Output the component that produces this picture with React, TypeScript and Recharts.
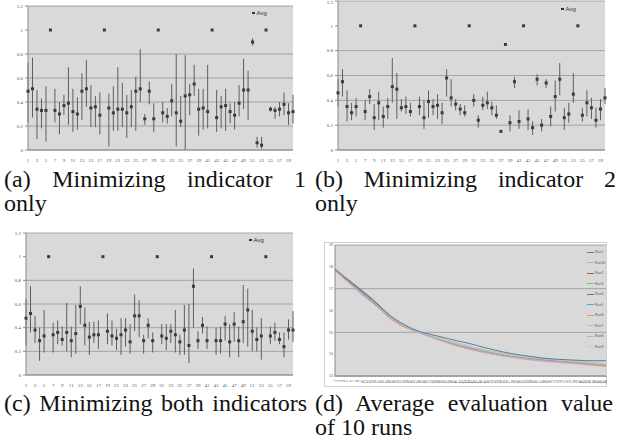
import { ComposedChart, LineChart, Line, XAxis, YAxis, CartesianGrid, ErrorBar, Legend } from 'recharts'

// x categories of the three error-bar panels
const categories = [
  1, 2, 3, 4, 5, 6, 7, 8, 9, 10, 11, 12, 13, 14, 15, 16, 17, 18, 19, 20,
  21, 22, 23, 24, 25, 26, 27, 28, 29, 30, 31, 32, 33, 34, 35, 36, 37, 38, 39, 40,
  41, 42, 43, 44, 45, 46, 47, 48, 49, 50, 51, 52, 53, 54, 55, 56, 57, 58, 59, 60
]
const yTicks = [0, 0.2, 0.4, 0.6, 0.8, 1, 1.2]

// (a) minimizing indicator 1 only
const aMean = [0.49, 0.51, 0.34, 0.33, 0.33, 1, 0.33, 0.30, 0.37, 0.39, 0.32, 0.30, 0.49, 0.51, 0.35, 0.36, 0.29, 1, 0.35, 0.31, 0.34, 0.34, 0.31, 0.36, 0.49, 0.51, 0.26, 0.49, 0.26, 1, 0.31, 0.28, 0.41, 0.31, 0.24, 0.45, 0.46, 0.55, 0.34, 0.35, 0.32, 1, 0.27, 0.36, 0.37, 0.32, 0.29, 0.39, 0.50, 0.50, 0.90, 0.06, 0.04, 1, 0.34, 0.33, 0.34, 0.38, 0.31, 0.32]
const aLow = [0.23, 0.27, 0.09, 0.18, 0.07, 1, 0.23, 0.13, 0.29, 0.21, 0.15, 0.17, 0.25, 0.36, 0.19, 0.19, 0.13, 1, 0.03, 0.16, 0.16, 0.19, 0.10, 0.19, 0.16, 0.40, 0.21, 0.38, 0.15, 1, 0.23, 0.22, 0.28, 0.03, 0.19, 0, 0.29, 0.45, 0.12, 0.17, 0.18, 1, 0.15, 0.18, 0.16, 0.22, 0.17, 0.28, 0.34, 0.25, 0.87, 0.02, 0.01, 1, 0.32, 0.26, 0.28, 0.29, 0.21, 0.22]
const aHigh = [0.73, 0.77, 0.50, 0.43, 0.53, 1, 0.51, 0.40, 0.46, 0.69, 0.51, 0.44, 0.64, 0.75, 0.54, 0.45, 0.48, 1, 0.47, 0.53, 0.69, 0.56, 0.46, 0.50, 0.61, 0.84, 0.30, 0.57, 0.39, 1, 0.40, 0.35, 0.55, 0.80, 0.45, 0.79, 0.55, 0.71, 0.51, 0.51, 0.71, 1, 0.50, 0.45, 0.51, 0.39, 0.40, 0.54, 0.76, 0.66, 0.93, 0.11, 0.11, 1, 0.36, 0.36, 0.40, 0.48, 0.39, 0.46]

// (b) minimizing indicator 2 only
const bMean = [0.46, 0.55, 0.35, 0.30, 0.35, 1, 0.31, 0.43, 0.26, 0.38, 0.27, 0.35, 0.51, 0.49, 0.34, 0.35, 0.31, 1, 0.35, 0.26, 0.39, 0.35, 0.36, 0.30, 0.58, 0.42, 0.37, 0.33, 0.30, 1, 0.40, 0.24, 0.36, 0.38, 0.34, 0.28, 0.15, 0.85, 0.22, 0.55, 0.23, 1, 0.25, 0.18, 0.57, 0.20, 0.54, 0.27, 0.43, 0.57, 0.26, 0.29, 0.45, 1, 0.28, 0.38, 0.34, 0.24, 0.33, 0.42]
const bLow = [0.35, 0.43, 0.23, 0.24, 0.27, 1, 0.24, 0.37, 0.16, 0.24, 0.18, 0.25, 0.38, 0.25, 0.31, 0.29, 0.27, 1, 0.28, 0.17, 0.26, 0.28, 0.25, 0.21, 0.43, 0.35, 0.32, 0.28, 0.27, 1, 0.35, 0.18, 0.32, 0.33, 0.28, 0.25, 0.14, 0.85, 0.15, 0.50, 0.17, 1, 0.16, 0.12, 0.52, 0.15, 0.50, 0.19, 0.31, 0.44, 0.16, 0.22, 0.38, 1, 0.23, 0.27, 0.25, 0.18, 0.24, 0.37]
const bHigh = [0.57, 0.65, 0.48, 0.38, 0.42, 1, 0.40, 0.49, 0.37, 0.47, 0.35, 0.42, 0.74, 0.62, 0.41, 0.43, 0.38, 1, 0.43, 0.40, 0.48, 0.41, 0.45, 0.38, 0.65, 0.57, 0.41, 0.37, 0.36, 1, 0.45, 0.28, 0.43, 0.47, 0.39, 0.36, 0.16, 0.85, 0.28, 0.59, 0.32, 1, 0.33, 0.23, 0.61, 0.25, 0.57, 0.35, 0.56, 0.70, 0.34, 0.38, 0.62, 1, 0.34, 0.48, 0.42, 0.34, 0.41, 0.50]

// (c) minimizing both indicators
const cMean = [0.48, 0.52, 0.38, 0.29, 0.33, 1, 0.34, 0.36, 0.30, 0.36, 0.29, 0.35, 0.58, 0.42, 0.32, 0.34, 0.34, 1, 0.37, 0.33, 0.31, 0.34, 0.38, 0.28, 0.50, 0.50, 0.29, 0.42, 0.29, 1, 0.33, 0.31, 0.37, 0.34, 0.28, 0.38, 0.25, 0.75, 0.29, 0.42, 0.29, 1, 0.29, 0.29, 0.43, 0.28, 0.43, 0.29, 0.45, 0.55, 0.37, 0.30, 0.33, 1, 0.33, 0.36, 0.30, 0.24, 0.38, 0.38]
const cLow = [0.25, 0.36, 0.27, 0.12, 0.19, 1, 0.19, 0.26, 0.25, 0.20, 0.15, 0.18, 0.43, 0.25, 0.17, 0.27, 0.22, 1, 0.26, 0.25, 0.21, 0.17, 0.24, 0.18, 0.37, 0.32, 0.18, 0.31, 0.19, 1, 0.26, 0.21, 0.27, 0.19, 0.17, 0.17, 0.10, 0.40, 0.22, 0.35, 0.22, 1, 0.17, 0.18, 0.29, 0.15, 0.28, 0.15, 0.27, 0.24, 0.20, 0.20, 0.13, 1, 0.26, 0.29, 0.26, 0.15, 0.30, 0.28]
const cHigh = [0.64, 0.75, 0.50, 0.40, 0.55, 1, 0.44, 0.46, 0.41, 0.61, 0.41, 0.59, 0.75, 0.57, 0.45, 0.45, 0.46, 1, 0.52, 0.46, 0.39, 0.48, 0.48, 0.43, 0.68, 0.63, 0.34, 0.48, 0.36, 1, 0.43, 0.43, 0.43, 0.55, 0.34, 0.59, 0.60, 0.90, 0.37, 0.49, 0.41, 1, 0.40, 0.41, 0.50, 0.43, 0.53, 0.41, 0.76, 0.73, 0.55, 0.40, 0.48, 1, 0.41, 0.44, 0.36, 0.36, 0.47, 0.54]

// (d) average evaluation value of 10 runs
const genTicks = [
  1, 2, 3, 4, 5, 6, 7, 8, 9, 10, 11, 12, 13, 14, 15, 16, 17, 18, 19, 20, 21, 22,
  23, 24, 25, 26, 27, 28, 29, 30, 31, 32, 33, 34, 35, 36, 37, 38, 39, 40, 41, 42, 43, 44,
  45, 46, 47, 48, 49, 50, 51, 52, 53, 54, 55, 56, 57, 58, 59, 60, 61, 62, 63, 64, 65, 66,
  67, 68, 69, 70, 71, 72, 73, 74, 75, 76, 77, 78, 79, 80, 81, 82, 83, 84, 85, 86, 87, 88
]
const gens = [1, 4, 7, 10, 13, 16, 19, 22, 25, 28, 31, 34, 37, 40, 43, 46, 49, 52, 55, 58, 61, 64, 67, 70, 73, 76, 79, 82, 85, 88]
const run2 = [17.9, 17.55, 17.22, 16.88, 16.53, 16.12, 15.72, 15.42, 15.18, 15.01, 14.86, 14.7, 14.55, 14.43, 14.32, 14.22, 14.12, 14.04, 13.96, 13.9, 13.84, 13.78, 13.73, 13.69, 13.66, 13.62, 13.59, 13.55, 13.51, 13.48]
const run3 = [17.86, 17.5, 17.16, 16.82, 16.47, 16.07, 15.7, 15.43, 15.2, 15.03, 14.9, 14.77, 14.64, 14.52, 14.4, 14.29, 14.2, 14.12, 14.04, 13.97, 13.91, 13.86, 13.82, 13.78, 13.74, 13.71, 13.68, 13.64, 13.6, 13.56]
const run4 = [17.87, 17.48, 17.13, 16.78, 16.43, 16.03, 15.66, 15.39, 15.16, 14.99, 14.85, 14.7, 14.55, 14.42, 14.32, 14.22, 14.13, 14.05, 13.98, 13.92, 13.86, 13.81, 13.76, 13.72, 13.69, 13.66, 13.63, 13.58, 13.54, 13.5]
const run5 = [17.84, 17.45, 17.08, 16.7, 16.36, 16.0, 15.66, 15.4, 15.17, 14.98, 14.83, 14.68, 14.53, 14.4, 14.28, 14.17, 14.08, 14.0, 13.92, 13.86, 13.8, 13.76, 13.72, 13.69, 13.66, 13.64, 13.61, 13.58, 13.55, 13.52]
const run6 = [17.82, 17.44, 17.1, 16.76, 16.4, 15.98, 15.58, 15.33, 15.13, 14.99, 14.86, 14.73, 14.6, 14.48, 14.37, 14.27, 14.17, 14.08, 14.0, 13.93, 13.87, 13.82, 13.78, 13.74, 13.7, 13.67, 13.63, 13.59, 13.55, 13.5]
const run7 = [17.85, 17.47, 17.12, 16.77, 16.42, 16.04, 15.67, 15.41, 15.19, 15.02, 14.88, 14.74, 14.61, 14.49, 14.38, 14.28, 14.19, 14.1, 14.02, 13.95, 13.89, 13.84, 13.8, 13.76, 13.73, 13.7, 13.66, 13.62, 13.58, 13.54]
const run8 = [17.88, 17.5, 17.14, 16.79, 16.44, 16.05, 15.68, 15.4, 15.16, 14.97, 14.82, 14.66, 14.52, 14.39, 14.27, 14.17, 14.08, 14.0, 13.92, 13.85, 13.79, 13.73, 13.69, 13.65, 13.61, 13.58, 13.55, 13.51, 13.47, 13.43]
const run9 = [17.86, 17.49, 17.15, 16.81, 16.46, 16.06, 15.69, 15.42, 15.19, 15.02, 14.89, 14.76, 14.63, 14.51, 14.39, 14.28, 14.18, 14.1, 14.02, 13.96, 13.9, 13.85, 13.81, 13.77, 13.73, 13.7, 13.67, 13.63, 13.59, 13.55]
const run10 = [17.87, 17.49, 17.14, 16.79, 16.44, 16.05, 15.68, 15.41, 15.17, 14.99, 14.85, 14.71, 14.57, 14.44, 14.33, 14.22, 14.12, 14.03, 13.95, 13.88, 13.82, 13.77, 13.72, 13.68, 13.65, 13.62, 13.58, 13.54, 13.5, 13.46]
const run1 = [17.9, 17.52, 17.17, 16.82, 16.48, 16.1, 15.73, 15.45, 15.22, 15.04, 14.93, 14.83, 14.72, 14.62, 14.53, 14.42, 14.3, 14.2, 14.1, 14.02, 13.95, 13.89, 13.83, 13.79, 13.76, 13.74, 13.72, 13.7, 13.7, 13.7]
const dTicks = [13, 14, 15, 16, 17, 18, 19]

const runs = [
  { name: 'Run2', values: run2, color: '#c0504d' },
  { name: 'Run3', values: run3, color: '#9bbb59' },
  { name: 'Run4', values: run4, color: '#8064a2' },
  { name: 'Run5', values: run5, color: '#4bacc6' },
  { name: 'Run6', values: run6, color: '#f79646' },
  { name: 'Run7', values: run7, color: '#a7c0de' },
  { name: 'Run8', values: run8, color: '#e0a3a1' },
  { name: 'Run9', values: run9, color: '#c4d79b' },
  { name: 'Run10', values: run10, color: '#b9a9cf' },
  { name: 'Run1', values: run1, color: '#4a7ebb' }
]

const serif = '"Liberation Serif", "Times New Roman", "DejaVu Serif", serif'
const tickFont = { fontSize: 5, fill: '#555', fontFamily: serif }
const captionFont = { fontFamily: serif, fontSize: 24, lineHeight: '24px', color: '#111' }

function buildRows(mean: number[], low: number[], high: number[]) {
  return categories.map((c, i) => ({
    cat: String(c),
    mean: mean[i],
    err: [mean[i] - low[i], high[i] - mean[i]]
  }))
}

const squareDot = (p: any) => (
  <rect key={`d-${p.index}`} x={p.cx - 1.5} y={p.cy - 1.5} width={3} height={3} fill="#3a3a3a" />
)

function AvgLegend(props: any) {
  const item = (props.payload || [])[0]
  return (
    <div style={{ display: 'flex', alignItems: 'center', fontSize: 6, fontFamily: 'Liberation Sans', color: '#333' }}>
      <span style={{ width: 2.5, height: 2.5, background: '#333', marginRight: 2, display: 'inline-block' }} />
      {item ? item.value : 'Avg'}
    </div>
  )
}

interface PanelProps {
  left: number
  top: number
  height: number
  marginTop: number
  yWidth: number
  xHeight: number
  mean: number[]
  low: number[]
  high: number[]
  legendLeft: number
  legendTop: number
}

function ErrPanel({ left, top, height, marginTop, yWidth, xHeight, mean, low, high, legendLeft, legendTop }: PanelProps) {
  const rows = buildRows(mean, low, high)
  return (
    <div style={{ position: 'absolute', left, top }}>
      <ComposedChart width={300} height={height} data={rows} margin={{ top: marginTop, right: 7, bottom: 0, left: 0 }}>
        <CartesianGrid vertical={false} fill="#d9d9d9" stroke="#959595" strokeWidth={0.8} />
        <XAxis dataKey="cat" interval={1} tick={tickFont} tickLine={false} axisLine={{ stroke: '#8a8a8a' }} height={xHeight} tickMargin={2} />
        <YAxis domain={[0, 1.2]} ticks={yTicks} tick={tickFont} width={yWidth} tickSize={3} tickMargin={2} axisLine={{ stroke: '#8a8a8a' }} tickLine={{ stroke: '#8a8a8a' }} />
        <Legend content={AvgLegend} layout="horizontal" verticalAlign="middle" align="center" wrapperStyle={{ left: legendLeft, top: legendTop, width: 'auto' }} />
        <Line dataKey="mean" name="Avg" stroke="none" dot={squareDot} activeDot={false} isAnimationActive={false}>
          <ErrorBar dataKey="err" width={0} stroke="#5e5e5e" strokeWidth={1} direction="y" />
        </Line>
      </ComposedChart>
    </div>
  )
}

function RunLegend(props: any) {
  const items = props.payload || []
  return (
    <div style={{ display: 'flex', flexDirection: 'column', fontFamily: 'Liberation Sans', fontSize: 3.5, color: '#555' }}>
      {items.map((it: any) => (
        <div key={it.value} style={{ display: 'flex', alignItems: 'center', height: 10.5 }}>
          <span style={{ width: 7, height: 1, background: it.color, marginRight: 1, display: 'inline-block' }} />
          {it.value}
        </div>
      ))}
    </div>
  )
}

const GenTick = (p: any) => (
  <text x={p.x} y={p.y + 1} transform={`rotate(-90 ${p.x} ${p.y + 1})`} textAnchor="end" dominantBaseline="central" fontSize={3} fill="#555" fontFamily="Liberation Sans">
    {p.payload.value}
  </text>
)

function RunsPanel() {
  const rows = gens.map((g, i) => {
    const row: any = { gen: g }
    runs.forEach(r => { row[r.name] = r.values[i] })
    return row
  })
  return (
    <div style={{ position: 'absolute', left: 324, top: 242, width: 281, height: 143, border: '1px solid #d0d0d0' }}>
      <LineChart width={282} height={144} data={rows} margin={{ top: 2, right: 1, bottom: 0, left: 0 }}>
        <CartesianGrid vertical={false} fill="#d9d9d9" stroke="#959595" strokeWidth={0.8} />
        <XAxis dataKey="gen" type="number" domain={[1, 88]} ticks={genTicks} interval={0} tick={GenTick} height={11} tickSize={1} axisLine={{ stroke: '#8a8a8a' }} tickLine={{ stroke: '#8a8a8a' }} />
        <YAxis domain={[13, 19]} ticks={dTicks} tick={{ fontSize: 3.5, fill: '#555', fontFamily: 'Liberation Sans' }} width={10} tickSize={1} tickMargin={1} axisLine={{ stroke: '#8a8a8a' }} tickLine={false} />
        <Legend content={RunLegend} layout="horizontal" verticalAlign="middle" align="center" wrapperStyle={{ left: 262, top: 4, width: 'auto' }} />
        {runs.map(r => (
          <Line key={r.name} dataKey={r.name} name={r.name} stroke={r.color} strokeWidth={1} dot={false} activeDot={false} isAnimationActive={false} />
        ))}
      </LineChart>
    </div>
  )
}

function Caption({ left, top, width, first, second }: { left: number; top: number; width: number; first: string; second?: string }) {
  return (
    <div style={{ position: 'absolute', left, top, width, ...captionFont }}>
      <div style={{ textAlign: 'justify', textAlignLast: 'justify', whiteSpace: 'nowrap' as const }}>{first}</div>
      {second ? <div style={{ textAlign: 'left' }}>{second}</div> : null}
    </div>
  )
}

export default function App() {
  return (
    <div style={{ position: 'absolute', left: 0, top: 0, width: 624, height: 441, background: '#fff', overflow: 'hidden' }}>
      <ErrPanel left={0} top={0} height={162} marginTop={6} yWidth={28} xHeight={12} mean={aMean} low={aLow} high={aHigh} legendLeft={252} legendTop={10} />
      <ErrPanel left={312} top={0} height={162} marginTop={1} yWidth={26} xHeight={12} mean={bMean} low={bLow} high={bHigh} legendLeft={249} legendTop={6} />
      <ErrPanel left={0} top={228} height={160} marginTop={5} yWidth={26} xHeight={13} mean={cMean} low={cLow} high={cHigh} legendLeft={249} legendTop={9} />
      <RunsPanel />
      <Caption left={4} top={167} width={302} first="(a) Minimizing indicator 1" second="only" />
      <Caption left={315} top={167} width={301} first="(b) Minimizing indicator 2" second="only" />
      <Caption left={4} top={391} width={303} first="(c) Minimizing both indicators" />
      <Caption left={315} top={391} width={298} first="(d) Average evaluation value" second="of 10 runs" />
    </div>
  )
}
